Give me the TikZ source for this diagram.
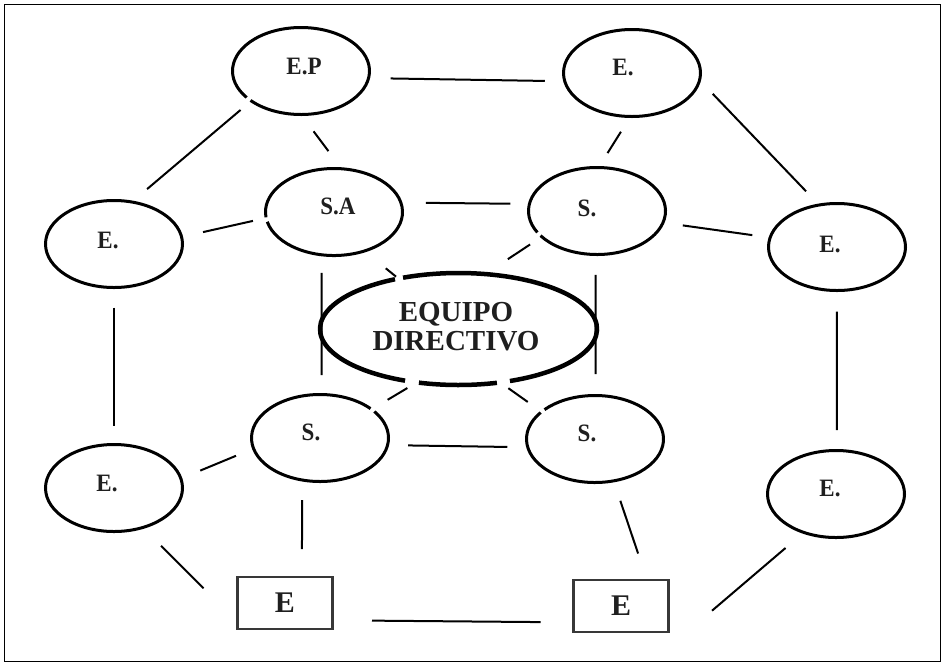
\documentclass[tikz,border=0pt]{standalone}
\usepackage{fontspec}
\setmainfont{Liberation Serif}
\newfontfamily\tagfont[FakeStretch=0.92]{Liberation Serif}
\usetikzlibrary{shapes.geometric,calc}

\definecolor{ink}{gray}{0.12}
\definecolor{boxline}{gray}{0.22}

% outline of an elliptic node drawn as an arc, so that it can be left open
\newcommand\rimarc[4][rim]{%
  \draw[#1] let \p0=(#2.center), \p1=(#2.east), \p2=(#2.north),
    \n1={\x1-\x0}, \n2={\y2-\y0} in
    ($(\p0)+(#3:\n1 and \n2)$) arc[start angle=#3, end angle=#4, x radius=\n1, y radius=\n2];}

\begin{document}
\begin{tikzpicture}[x=1pt,y=1pt,
  oval/.style={ellipse, draw, line width=3pt, minimum width=137pt, minimum height=87pt,
    inner sep=0pt, outer sep=0pt},
  ovalopen/.style={oval, draw=none},
  hub/.style={ellipse, draw=none, minimum width=277pt, minimum height=112pt,
    inner sep=0pt, outer sep=0pt},
  tag/.style={font=\tagfont\bfseries\fontsize{25}{25}\selectfont, text=ink, inner sep=0pt},
  hubtext/.style={font=\bfseries\fontsize{29}{28.5}\selectfont, text=ink, align=center, inner sep=0pt},
  box/.style={rectangle, draw=boxline, line width=2.5pt, minimum width=95pt, minimum height=52pt,
    inner sep=0pt, outer sep=0pt, font=\bfseries\fontsize{30}{30}\selectfont, text=ink},
  link/.style={line width=2pt},
  rim/.style={line width=3pt},
  hubrim/.style={line width=4.5pt},
]
\useasboundingbox (0,0) rectangle (944,-665);
\draw[line width=1pt] (4.5,-4) rectangle (940.5,-661.5);

% outer ring and inner ring of groups
\node[ovalopen, label={[tag,shift={(3,5)}]center:E.P}] (ep) at (301,-71) {};
\node[oval, label={[tag,shift={(-9,6)}]center:E.}] (etr) at (632,-73) {};
\node[ovalopen, label={[tag,shift={(4,6)}]center:S.A}] (sa) at (334,-212) {};
\node[ovalopen, label={[tag,shift={(-10,3)}]center:S.}] (sur) at (597,-211) {};
\node[oval, label={[tag,shift={(-6,4)}]center:E.}] (el) at (114,-244) {};
\node[oval, label={[tag,shift={(-7,3)}]center:E.}] (er) at (837,-247) {};
\node[hub, label={[hubtext,shift={(-2.5,2.3)}]center:{EQUIPO\\DIRECTIVO}}] (ed) at (458.5,-329) {};
\node[ovalopen, label={[tag,shift={(-9,6)}]center:S.}] (sll) at (320,-438) {};
\node[ovalopen, label={[tag,shift={(-8,6)}]center:S.}] (slr) at (595,-439) {};
\node[oval, label={[tag,shift={(-7,5)}]center:E.}] (ell) at (114,-488) {};
\node[oval, label={[tag,shift={(-6,6)}]center:E.}] (elr) at (836,-494) {};
\node[box] (bl) at (285,-603) {E};
\node[box] (br) at (621,-606) {E};
\coordinate (brfree) at (712,-610.7);

% open outlines
\rimarc{ep}{222.5}{577.5}
\rimarc{sa}{193}{547}
\rimarc{sur}{214.5}{569.5}
\rimarc{sll}{42.5}{397.5}
\rimarc{slr}{142.5}{497.5}
\rimarc[hubrim]{ed}{117.3}{247.3}
\rimarc[hubrim]{ed}{253.4}{286.1}
\rimarc[hubrim]{ed}{291.8}{473.6}

% connectors
\draw[link, shorten <=22pt, shorten >=20pt] (ep.-6) -- (etr.187);
\draw[link, shorten <=14pt, shorten >=20pt] (ep.211) -- (el.67);
\draw[link, shorten <=21pt, shorten >=22pt] (ep.-90) -- (sa.80);
\draw[link, shorten <=18pt, shorten >=17pt] (etr.-92) -- (sur.88);
\draw[link, shorten <=19pt, shorten >=19pt] (etr.-6) -- (er.113);
\draw[link, shorten <=25pt, shorten >=19pt] (sa.8) -- (sur.174);
\draw[link, shorten <=22pt, shorten >=13.5pt] (el.6) -- (sa.185);
\draw[link, shorten <=20pt, shorten >=18pt] (sur.-10) -- (er.172);
\draw[link, shorten <=14pt, shorten >=27pt] (sur.205) -- (ed.64);
\draw[link, shorten <=27.5pt, shorten >=3pt] (sa.-52) -- (ed.140);
\draw[link, shorten <=18pt, shorten >=19.5pt] (sa.-106) -- (sll.88);
\draw[link, shorten <=20.5pt, shorten >=21.5pt] (sur.-92) -- (slr.89);
\draw[link, shorten <=11pt, shorten >=18.7pt] (ed.232) -- (sll.29);
\draw[link, shorten <=10pt, shorten >=17pt] (ed.-52) -- (slr.153);
\draw[link, shorten <=20.5pt, shorten >=20.5pt] (sll.-6) -- (slr.187);
\draw[link, shorten <=20pt, shorten >=18.5pt] (el.-90) -- (ell.90);
\draw[link, shorten <=21pt, shorten >=20.5pt] (er.-90) -- (elr.89);
\draw[link, shorten <=21pt, shorten >=19pt] (ell.8) -- (sll.189);
\draw[link, shorten <=20pt, shorten >=28pt] (sll.-113) -- (bl.57);
\draw[link, shorten <=21pt, shorten >=28pt] (slr.-66) -- (br.45);
\draw[link, shorten <=26pt, shorten >=48pt] (ell.-54) -- (bl.202);
\draw[link, shorten <=24pt] (elr.230) -- (brfree);
\draw[link, shorten <=39.5pt, shorten >=33pt] (bl.-20) -- (br.199);
\end{tikzpicture}
\end{document}
